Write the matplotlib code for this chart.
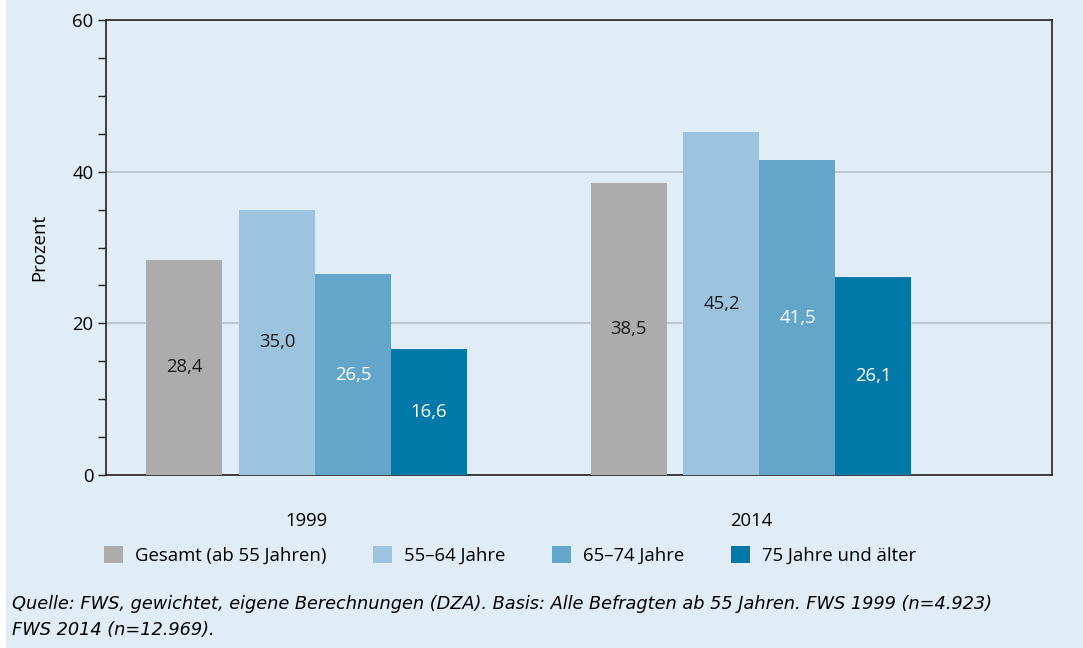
import matplotlib.pyplot as plt
from matplotlib.patches import Rectangle
import numpy as np

plt.rcParams['font.family'] = ['Open Sans', 'DejaVu Sans']

years = ['1999', '2014']
groups = ['Gesamt (ab 55 Jahren)', '55\u201364 Jahre', '65\u201374 Jahre', '75 Jahre und älter']
values = {
    'Gesamt (ab 55 Jahren)': [28.4, 38.5],
    '55\u201364 Jahre': [35.0, 45.2],
    '65\u201374 Jahre': [26.5, 41.5],
    '75 Jahre und älter': [16.6, 26.1],
}
colors = ['#acacac', '#9cc4de', '#64a6c9', '#0079a9']
label_colors = ['#1a1a1a', '#1a1a1a', 'white', 'white']

bg = '#e0ecf6'
fs = 13.3
fig = plt.figure(figsize=(10.83, 6.48), dpi=100, facecolor=bg)
fig.patches.append(Rectangle((0, 0), 6 / 1083, 1, transform=fig.transFigure,
                             facecolor='white', edgecolor='none', zorder=0))
ax = fig.add_axes([106 / 1083, 1 - 475 / 648, 946 / 1083, 455 / 648])
ax.set_facecolor(bg)

centers = np.array([2.64, 8.49])
offsets = [-1.61, -0.39, 0.61, 1.61]
for name, off, col, lc in zip(groups, offsets, colors, label_colors):
    bars = ax.bar(centers + off, values[name], width=1.0, color=col, label=name, zorder=3)
    ax.bar_label(bars, labels=[f"{v:.1f}".replace('.', ',') for v in values[name]],
                 label_type='center', color=lc, fontsize=fs)

ax.set_xlim(0, 12.45)
ax.set_ylim(0, 60)
ax.set_yticks([0, 20, 40, 60])
ax.set_yticks(np.arange(0, 61, 5), minor=True)
ax.tick_params(axis='y', which='both', length=6, width=1, color='#222222',
               labelsize=fs, pad=3)
ax.set_xticks(centers)
ax.set_xticklabels(years)
ax.tick_params(axis='x', length=0, labelsize=fs, pad=27)
ax.grid(axis='y', which='major', color='#b9c0c6', linewidth=1.2, zorder=1)
for s in ax.spines.values():
    s.set_color('#222222')
    s.set_linewidth(1.2)
ax.set_ylabel('Prozent', fontsize=fs, labelpad=17)

fig.legend(loc='center left', bbox_to_anchor=(104 / 1083, 1 - 555 / 648), ncol=4,
           frameon=False, fontsize=fs, handlelength=1.05, handleheight=1.05,
           handletextpad=0.65, columnspacing=2.5, borderpad=0, borderaxespad=0)

fig.text(12 / 1083, 1 - 595 / 648,
         'Quelle: FWS, gewichtet, eigene Berechnungen (DZA). Basis: Alle Befragten ab 55 Jahren. FWS 1999 (n=4.923)\nFWS 2014 (n=12.969).',
         fontsize=12.8, style='italic', va='top', ha='left', linespacing=1.55,
         family=['Liberation Sans Narrow', 'DejaVu Sans'])

fig.savefig('out.png', dpi=100, facecolor=bg)
